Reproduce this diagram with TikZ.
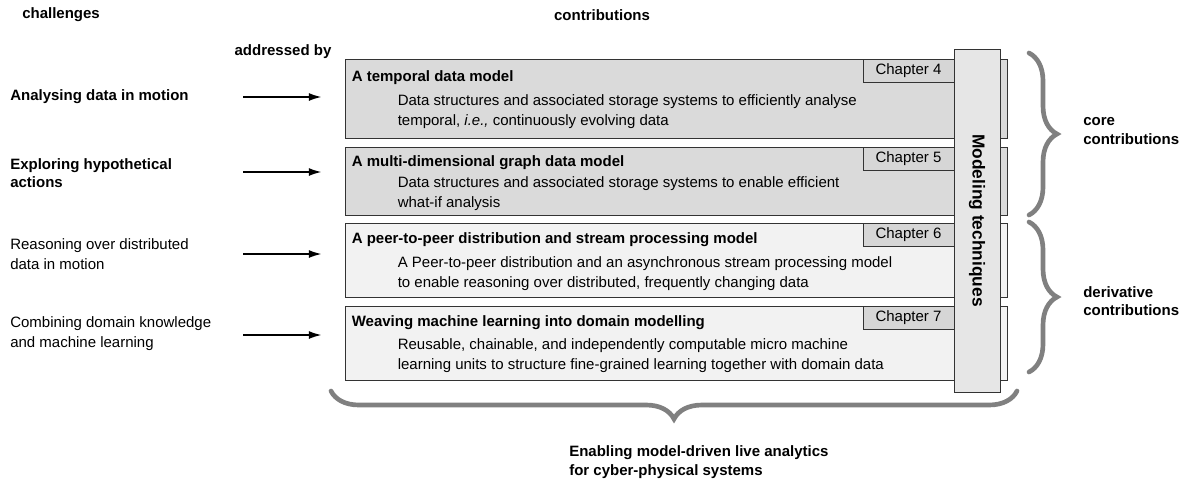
\documentclass[tikz,border=0pt]{standalone}
\usepackage{fontspec}
\setmainfont{Liberation Sans}
\usetikzlibrary{calc,positioning,decorations.pathreplacing,arrows.meta}

\definecolor{boxdark}{HTML}{DADADA}
\definecolor{boxlight}{HTML}{F2F2F2}
\definecolor{tabgray}{HTML}{D6D6D6}
\definecolor{bargray}{HTML}{E6E6E6}
\definecolor{edgegray}{HTML}{333333}
\definecolor{bracegray}{HTML}{808080}

\begin{document}
\begin{tikzpicture}[x=0.75pt,y=-0.75pt,
    every node/.style={inner sep=0pt},
    txt/.style={anchor=west, align=left, font=\fontsize{11.25}{15}\selectfont},
    head/.style={txt, font=\fontsize{11.25}{14}\selectfont\bfseries},
    contrib/.style={draw=edgegray, line width=0.75pt, minimum width=496.5pt},
    chap/.style={draw=edgegray, line width=0.75pt, fill=tabgray, anchor=north east,
        minimum width=68.25pt, minimum height=17.25pt, font=\fontsize{11.25}{14}\selectfont},
    arr/.style={line width=1.1pt, -{Latex[length=9.5pt,width=6pt]}, shorten >=17.25pt},
    bracedeco/.style={draw=bracegray, line width=3.5pt, line cap=round, decorate,
        decoration={brace, amplitude=21pt}}]
\useasboundingbox (0,0) rectangle (1187,479);

% Headings
\node[head] (hchal) at (22,15) {challenges};
\node[head, anchor=center] (hcont) at (602,15) {contributions};
\node[head, anchor=center] (haddr) at (283,52) {addressed by};

% Contribution boxes
\node[contrib, fill=boxdark, minimum height=59.25pt] (m1) at (676,98.5) {};
\node[contrib, fill=boxdark, minimum height=51pt] (m2) at (676,181) {};
\node[contrib, fill=boxlight, minimum height=55.5pt] (m3) at (676,260) {};
\node[contrib, fill=boxlight, minimum height=55.5pt] (m4) at (676,343.5) {};

\node[head] (t1) at ($(m1.north west)+(7,19)$) {A temporal data model};
\node[txt] (d1) at ($(m1.north west)+(53,53)$)
    {Data structures and associated storage systems to efficiently analyse\\temporal, \textit{i.e.,} continuously evolving data};
\node[head] (t2) at ($(m2.north west)+(7,16)$) {A multi-dimensional graph data model};
\node[txt] (d2) at ($(m2.north west)+(53,47)$)
    {Data structures and associated storage systems to enable efficient\\what-if analysis};
\node[head] (t3) at ($(m3.north west)+(7,17)$) {A peer-to-peer distribution and stream processing model};
\node[txt] (d3) at ($(m3.north west)+(53,51)$)
    {A Peer-to-peer distribution and an asynchronous stream processing model\\to enable reasoning over distributed, frequently changing data};
\node[head] (t4) at ($(m4.north west)+(7,17)$) {Weaving machine learning into domain modelling};
\node[txt] (d4) at ($(m4.north west)+(53,50)$)
    {Reusable, chainable, and independently computable micro machine\\learning units to structure fine-grained learning together with domain data};

% Chapter tabs
\node[chap] (c4) at ($(m1.north east)+(-53,0)$) {Chapter 4};
\node[chap] (c5) at ($(m2.north east)+(-53,0)$) {Chapter 5};
\node[chap] (c6) at ($(m3.north east)+(-53,0)$) {Chapter 6};
\node[chap] (c7) at ($(m4.north east)+(-53,0)$) {Chapter 7};

% Modeling techniques bar
\node[draw=edgegray, line width=0.75pt, fill=bargray, rotate=-90,
    minimum width=257.25pt, minimum height=34.5pt,
    font=\fontsize{13}{15}\selectfont\bfseries] (mt) at (977,220.5) {Modeling techniques};

% Challenges
\node[head] (ch1) at (10,97) {Analysing data in motion};
\node[head] (ch2) at (10,173) {Exploring hypothetical\\actions};
\node[txt] (ch3) at (10,254) {Reasoning over distributed\\data in motion};
\node[txt] (ch4) at (10,334) {Combining domain knowledge\\and machine learning};

% Arrows
\coordinate (a1) at (243,97);
\coordinate (a2) at (243,172);
\coordinate (a3) at (243,254);
\coordinate (a4) at (243,335);
\draw[arr] (a1) -- (a1 -| m1.west);
\draw[arr] (a2) -- (a2 -| m2.west);
\draw[arr] (a3) -- (a3 -| m3.west);
\draw[arr] (a4) -- (a4 -| m4.west);

% Braces
\coordinate (bc1) at (1029,53);
\coordinate (bc2) at (1029,215);
\coordinate (bd1) at (1029,222);
\coordinate (bd2) at (1029,372);
\coordinate (bb1) at (1017,391);
\coordinate (bb2) at (331,391);
\draw[bracedeco] (bc1) -- (bc2);
\draw[bracedeco] (bd1) -- (bd2);
\draw[bracedeco] (bb1) -- (bb2);

\node[head] (core) at (1083,131) {core\\contributions};
\node[head] (deriv) at (1083,301) {derivative\\contributions};
\node[head] (goal) at (569,462) {Enabling model-driven live analytics\\for cyber-physical systems};
\end{tikzpicture}
\end{document}
